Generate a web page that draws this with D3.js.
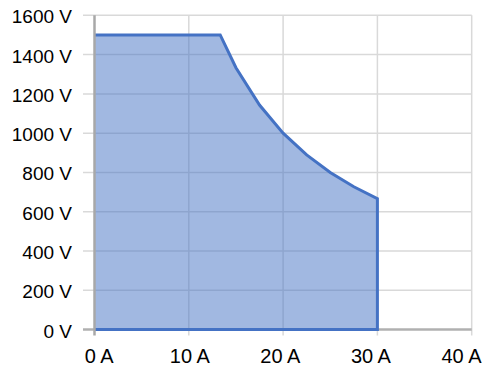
<!DOCTYPE html>
<html>
<head>
<meta charset="utf-8">
<script src="https://cdn.jsdelivr.net/npm/d3@7"></script>
<style>
  html, body { margin: 0; padding: 0; background: #fff; }
  svg { display: block; }
  text { font-family: "Liberation Sans", Arial, Helvetica, sans-serif; fill: #000; }
</style>
</head>
<body>
<svg id="chart" width="487" height="372"></svg>
<script>
// Data (current in A, voltage in V) - constant-power derating curve
const currentA = [0, 13.33, 15, 17.5, 20, 22.5, 25, 27.5, 30, 30, 0];
const voltageV = [1500, 1500, 1333, 1143, 1000, 889, 800, 727, 667, 0, 0];
const xTicks = [0, 10, 20, 30, 40];
const yTicks = [0, 200, 400, 600, 800, 1000, 1200, 1400, 1600];
const xUnit = "A";
const yUnit = "V";

const svg = d3.select("#chart");
const x = d3.scaleLinear().domain([0, 40]).range([94.5, 471.7]);
const y = d3.scaleLinear().domain([0, 1600]).range([329.6, 15.3]);
const xLab = d3.scaleLinear().domain([0, 40]).range([98.7, 461]);

const pts = currentA.map((c, i) => ({ c, v: voltageV[i] }));

// gridlines
const grid = svg.append("g");
grid.selectAll("line.h").data(yTicks.filter(d => d > 0)).enter().append("line")
  .attr("x1", 83).attr("x2", x(40))
  .attr("y1", d => y(d)).attr("y2", d => y(d))
  .attr("stroke", "#d9d9d9").attr("stroke-width", 1.5);
grid.selectAll("line.v").data(xTicks.filter(d => d > 0)).enter().append("line")
  .attr("x1", d => x(d)).attr("x2", d => x(d))
  .attr("y1", y(1600)).attr("y2", y(0) + 6)
  .attr("stroke", "#d9d9d9").attr("stroke-width", 1.5);

// area fill
const area = d3.line().x(d => x(d.c)).y(d => y(d.v));
svg.append("path").datum(pts.concat([pts[0]]))
  .attr("d", area)
  .attr("fill", "#4472c4").attr("fill-opacity", 0.5).attr("stroke", "none");

// x axis line (grey)
svg.append("line")
  .attr("x1", 83).attr("x2", x(40)).attr("y1", y(0)).attr("y2", y(0))
  .attr("stroke", "#b0b0b0").attr("stroke-width", 2.5);

// blue outline
svg.append("path").datum(pts)
  .attr("d", area)
  .attr("fill", "none").attr("stroke", "#4472c4").attr("stroke-width", 3)
  .attr("stroke-linejoin", "miter");

// y axis line (grey)
svg.append("line")
  .attr("x1", x(0)).attr("x2", x(0)).attr("y1", y(1600)).attr("y2", y(0) + 6)
  .attr("stroke", "#a8a8a8").attr("stroke-width", 2.5);

// y labels
const yAxis = d3.axisLeft(y).tickValues(yTicks).tickSize(0).tickPadding(0)
  .tickFormat(d => d + " " + yUnit);
const gy = svg.append("g").attr("transform", "translate(72,0)").call(yAxis);
gy.select(".domain").remove();
gy.selectAll("text").attr("font-size", 19).attr("dy", null)
  .attr("y", 7.5).attr("x", 0)
  .style("font-family", "'Liberation Sans', Arial, sans-serif");

// x labels
const xAxis = d3.axisBottom(xLab).tickValues(xTicks).tickSize(0).tickPadding(0)
  .tickFormat(d => d + " " + xUnit);
const gx = svg.append("g").attr("transform", "translate(0,363)").call(xAxis);
gx.select(".domain").remove();
gx.selectAll("text").attr("font-size", 20).attr("dy", null).attr("y", 0)
  .style("font-family", "'Liberation Sans', Arial, sans-serif");
</script>
</body>
</html>
